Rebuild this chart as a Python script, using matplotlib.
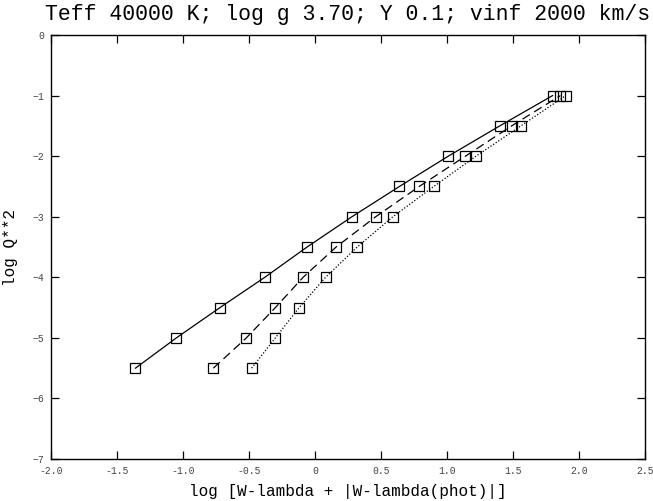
import matplotlib
matplotlib.use("Agg")
import matplotlib.pyplot as plt

plt.rcParams['font.family'] = ['Liberation Mono', 'DejaVu Sans Mono']

# log Q**2 levels shared by all three curves
logq2 = [-5.5, -5.0, -4.5, -4.0, -3.5, -3.0, -2.5, -2.0, -1.5, -1.0]

# log [W-lambda + |W-lambda(phot)|] for each curve
x_solid = [-1.36, -1.05, -0.72, -0.38, -0.06, 0.28, 0.64, 1.01, 1.40, 1.80]
x_dashed = [-0.77, -0.52, -0.30, -0.09, 0.16, 0.46, 0.79, 1.14, 1.49, 1.86]
x_dotted = [-0.48, -0.30, -0.12, 0.08, 0.32, 0.59, 0.90, 1.22, 1.56, 1.90]

xticks = [-2.0, -1.5, -1.0, -0.5, 0.0, 0.5, 1.0, 1.5, 2.0, 2.5]
xticklabels = ['-2.0', '-1.5', '-1.0', '-0.5', '0', '0.5', '1.0', '1.5', '2.0', '2.5']
yticks = [0, -1, -2, -3, -4, -5, -6, -7]

fig = plt.figure(figsize=(6.53, 5.01), dpi=100)
ax = fig.add_axes([0.0781, 0.0838, 0.9096, 0.8463])

mk = dict(marker='s', markersize=7, markerfacecolor='none',
          markeredgecolor='black', markeredgewidth=0.9, color='black', linewidth=0.9)
ax.plot(x_solid, logq2, linestyle='-', **mk)
ax.plot(x_dashed, logq2, linestyle=(0, (7, 4)), **mk)
ax.plot(x_dotted, logq2, linestyle=(0, (1, 1.5)), **mk)

ax.set_xlim(-2.0, 2.5)
ax.set_ylim(-7, 0)
ax.set_xticks(xticks)
ax.set_xticklabels(xticklabels)
ax.set_yticks(yticks)
ax.tick_params(direction='in', length=6, width=0.9, top=True, right=True,
               labelsize=7, labelcolor='#444444', pad=5)
for s in ax.spines.values():
    s.set_linewidth(1.0)

ax.set_xlabel("log [W-lambda + |W-lambda(phot)|]", fontsize=11.5, labelpad=6)
ax.set_ylabel("log Q**2", fontsize=11.5, labelpad=10)
ax.set_title("Teff 40000 K; log g 3.70; Y 0.1; vinf 2000 km/s", fontsize=15.5, pad=11)

fig.savefig("out.png", dpi=100)
